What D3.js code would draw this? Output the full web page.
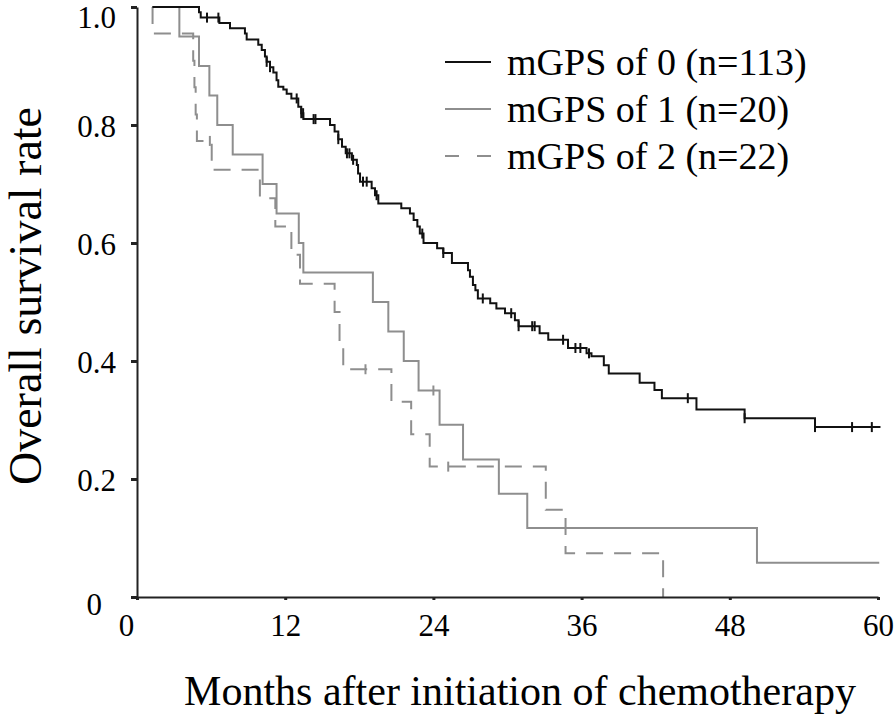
<!DOCTYPE html>
<html>
<head>
<meta charset="utf-8">
<script src="https://cdn.jsdelivr.net/npm/d3@7"></script>
<style>
  html, body { margin: 0; padding: 0; background: #fff; }
  svg { display: block; }
  text { font-family: "Liberation Serif", "Times New Roman", serif; fill: #000; }
</style>
</head>
<body>
<svg id="chart" width="894" height="722"></svg>
<script>
// ---- data ----
const monthTicks = [0, 12, 24, 36, 48, 60];
const survTicks = [0, 0.2, 0.4, 0.6, 0.8, 1.0];
const seriesNames = ["mGPS of 0 (n=113)", "mGPS of 1 (n=20)", "mGPS of 2 (n=22)"];

// mGPS 0: step times (months) and survival after each step
const g0Times = [1.25, 5.02, 5.16, 6.67, 7.53, 8.74, 8.88, 9.82, 10.1, 10.36, 10.5, 10.77, 11.04, 11.3, 11.44, 11.85, 12.12, 12.5, 13.06, 13.3, 13.47, 15.63, 16.0, 16.3, 16.6, 16.9, 17.4, 17.8, 17.9, 18.06, 19.0, 19.27, 19.54, 21.4, 22.1, 22.4, 22.7, 22.9, 23.2, 24.3, 24.8, 25.5, 26.8, 26.96, 27.2, 27.4, 27.6, 28.6, 29.1, 29.8, 30.6, 30.9, 32.6, 33.3, 34.9, 36.4, 36.8, 37.8, 38.2, 40.7, 41.9, 42.5, 45.3, 49.2, 54.9];
const g0Surv  = [1.0, 0.991, 0.982, 0.973, 0.964, 0.955, 0.945, 0.936, 0.927, 0.916, 0.907, 0.898, 0.889, 0.876, 0.865, 0.860, 0.853, 0.845, 0.831, 0.820, 0.810, 0.800, 0.789, 0.776, 0.763, 0.752, 0.741, 0.732, 0.718, 0.704, 0.693, 0.681, 0.667, 0.659, 0.650, 0.639, 0.628, 0.616, 0.600, 0.591, 0.583, 0.566, 0.554, 0.543, 0.529, 0.520, 0.506, 0.498, 0.489, 0.481, 0.469, 0.459, 0.447, 0.436, 0.422, 0.413, 0.408, 0.393, 0.379, 0.363, 0.351, 0.337, 0.318, 0.303, 0.288];
const g0Censor = [5.67, 6.59, 10.5, 10.77, 12.93, 13.3, 13.45, 14.3, 14.45, 16.3, 17.0, 17.2, 17.5, 18.3, 18.6, 19.4, 23.1, 24.8, 28.0, 30.3, 30.9, 32.0, 32.2, 34.5, 35.5, 35.9, 36.6, 44.6, 49.2, 54.9, 57.9, 59.5];
const g0End = 60.2;

// mGPS 1
const g1Times = [1.25, 3.43, 5.02, 5.86, 6.5, 7.75, 10.17, 11.3, 13.1, 13.47, 19.1, 20.35, 21.6, 22.8, 24.5, 26.4, 29.3, 31.6, 50.2];
const g1Surv  = [1.0, 0.95, 0.90, 0.85, 0.80, 0.75, 0.70, 0.65, 0.60, 0.55, 0.50, 0.45, 0.40, 0.35, 0.292, 0.233, 0.175, 0.117, 0.058];
const g1Censor = [24.0];
const g1End = 60.1;

// mGPS 2
const g2Times = [1.25, 1.26, 4.55, 4.65, 4.75, 4.85, 6.05, 9.95, 11.2, 12.5, 13.2, 16.0, 16.4, 16.7, 20.6, 22.2, 23.7, 33.1, 34.7, 42.6];
const g2Surv  = [1.0, 0.955, 0.909, 0.864, 0.818, 0.773, 0.724, 0.676, 0.628, 0.580, 0.531, 0.483, 0.434, 0.386, 0.331, 0.276, 0.221, 0.148, 0.074, 0.0];
const g2Censor = [5.9, 18.5, 25.2];
const g2End = 42.6;

// ---- chart ----
const svg = d3.select("#chart");
const x = d3.scaleLinear().domain([0, 60]).range([137, 878]);
const y = d3.scaleLinear().domain([0, 1]).range([597, 7]);

const black = "#111111";
const gray = "#8e8e8e";
const serif = "Liberation Serif, Times New Roman, serif";

const series = [
  { times: g0Times, surv: g0Surv, censor: g0Censor, end: g0End, color: black, dash: null },
  { times: g1Times, surv: g1Surv, censor: g1Censor, end: g1End, color: gray, dash: null },
  { times: g2Times, surv: g2Surv, censor: g2Censor, end: g2End, color: gray, dash: "17,11" }
];

function survAt(s, t) {
  let v = s.surv[0];
  for (let i = 0; i < s.times.length; i++) { if (s.times[i] <= t) v = s.surv[i]; }
  return v;
}

const line = d3.line().x(d => x(d[0])).y(d => y(d[1])).curve(d3.curveStepAfter);

// draw gray first, black on top
[series[2], series[1], series[0]].forEach(s => {
  const pts = s.times.map((t, i) => [t, s.surv[i]]);
  pts.push([s.end, s.surv[s.surv.length - 1]]);
  svg.append("path")
    .attr("d", line(pts))
    .attr("fill", "none")
    .attr("stroke", s.color)
    .attr("stroke-width", 2)
    .attr("stroke-dasharray", s.dash);
  svg.append("g").selectAll("line").data(s.censor).join("line")
    .attr("x1", d => x(d)).attr("x2", d => x(d))
    .attr("y1", d => y(survAt(s, d)) - 5)
    .attr("y2", d => y(survAt(s, d)) + 5)
    .attr("stroke", s.color)
    .attr("stroke-width", 2);
});

// axes
const yAxis = svg.append("g")
  .attr("transform", `translate(${x(0)},0)`)
  .call(d3.axisLeft(y).tickValues(survTicks).tickSize(6).tickSizeOuter(0).tickPadding(15)
    .tickFormat(d => d === 0 ? "0" : d3.format(".1f")(d)));
yAxis.attr("font-family", serif);
yAxis.select(".domain").attr("stroke", "#222").attr("stroke-width", 2);
yAxis.selectAll(".tick line").attr("stroke", "#222").attr("stroke-width", 3);
yAxis.selectAll(".tick text")
  .attr("font-family", serif)
  .attr("font-size", 31)
  .attr("fill", "#000")
  .attr("dy", "0.38em");
yAxis.selectAll(".tick text").filter(d => d === 1).attr("dy", 20);
yAxis.selectAll(".tick text").filter(d => d === 0).attr("dx", -14).attr("dy", "0.55em");

const xAxis = svg.append("g")
  .attr("transform", `translate(0,${y(0)})`)
  .call(d3.axisBottom(x).tickValues(monthTicks).tickSize(3).tickSizeOuter(0).tickPadding(14)
    .tickFormat(d3.format("d")));
xAxis.attr("font-family", serif);
xAxis.select(".domain").attr("stroke", "#222").attr("stroke-width", 2);
xAxis.selectAll(".tick line").attr("stroke", "#222").attr("stroke-width", 3);
xAxis.selectAll(".tick text")
  .attr("font-family", serif)
  .attr("font-size", 31)
  .attr("fill", "#000");
xAxis.selectAll(".tick text").filter(d => d === 0).attr("dx", -11);

// axis titles
svg.append("text")
  .attr("x", 520).attr("y", 705)
  .attr("text-anchor", "middle")
  .attr("font-size", 42)
  .text("Months after initiation of chemotherapy");

svg.append("text")
  .attr("transform", "translate(41,296) rotate(-90)")
  .attr("text-anchor", "middle")
  .attr("font-size", 46)
  .text("Overall survival rate");

// legend
const legend = svg.append("g");
const legendDash = [null, null, "14,18"];
const legendColor = [black, gray, gray];
seriesNames.forEach((name, i) => {
  const ly = 62 + i * 47;
  legend.append("line")
    .attr("x1", 445).attr("x2", 491).attr("y1", ly).attr("y2", ly)
    .attr("stroke", legendColor[i]).attr("stroke-width", 2)
    .attr("stroke-dasharray", legendDash[i]);
  legend.append("text")
    .attr("x", 507).attr("y", ly).attr("dy", "0.34em")
    .attr("font-size", 38)
    .text(name);
});
</script>
</body>
</html>
